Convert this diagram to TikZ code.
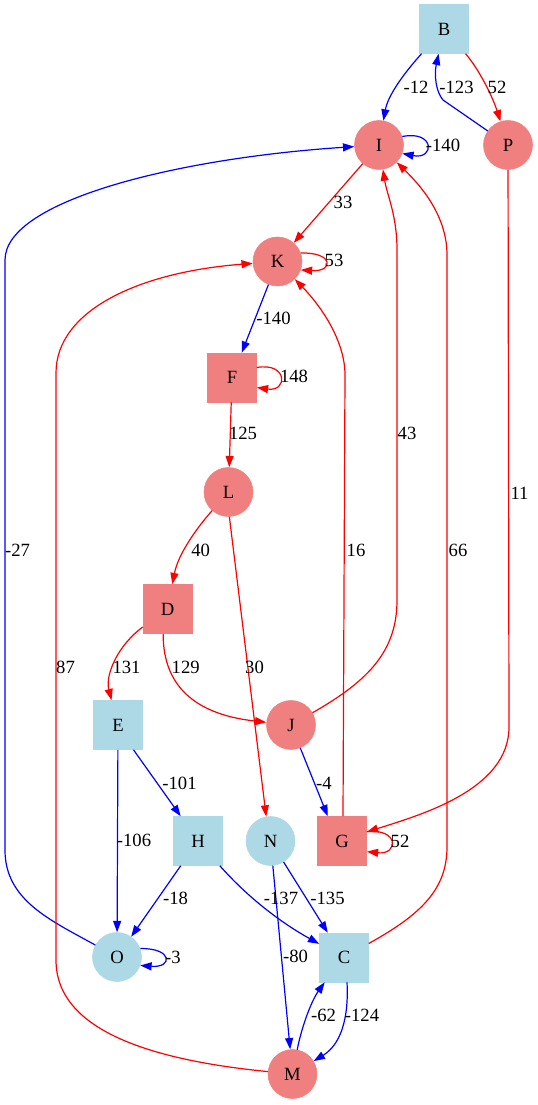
\documentclass[tikz,border=0pt]{standalone}
\usepackage{fontspec}
\setmainfont{Liberation Serif}
\usetikzlibrary{arrows.meta}
\definecolor{lcoral}{RGB}{240,128,128}
\definecolor{lblue}{RGB}{173,216,230}
\begin{document}
\begin{tikzpicture}[x=0.75pt,y=-0.75pt,
  font=\fontsize{14}{16}\selectfont,
  cnode/.style={circle, minimum size=36.75pt, inner sep=0pt},
  snode/.style={rectangle, minimum size=36.75pt, inner sep=0pt},
  rdn/.style={fill=lcoral, draw=lcoral},
  bln/.style={fill=lblue, draw=lblue},
  redge/.style={draw=red, line width=0.9pt, -{Triangle[length=8.5pt,width=6pt]}},
  bedge/.style={draw=blue, line width=0.9pt, -{Triangle[length=8.5pt,width=6pt]}},
  lab/.style={inner sep=0pt}
]
\useasboundingbox (0,0) rectangle (537,1105);
% nodes
\node[snode,bln] (B) at (444,29) {B};
\node[cnode,rdn] (I) at (379,145) {I};
\node[cnode,rdn] (P) at (508,145) {P};
\node[cnode,rdn] (K) at (277.5,261.5) {K};
\node[snode,rdn] (F) at (232,377.5) {F};
\node[cnode,rdn] (L) at (228.5,492) {L};
\node[snode,rdn] (D) at (167.5,609) {D};
\node[snode,bln] (E) at (118,725) {E};
\node[cnode,rdn] (J) at (291,725) {J};
\node[snode,bln] (H) at (198,841) {H};
\node[cnode,bln] (N) at (270.5,841) {N};
\node[snode,rdn] (G) at (342,841) {G};
\node[cnode,bln] (O) at (117,957) {O};
\node[snode,bln] (C) at (344,957.5) {C};
\node[cnode,rdn] (M) at (292.5,1074) {M};
% edges
\draw[bedge] (B) .. controls (405,72) and (388,95) .. (I);
\draw[bedge] (P) -- (443,100) .. controls (436,92) and (434,75) .. (B);
\draw[redge] (B) .. controls (478,68) and (492,95) .. (P);
\draw[bedge] (I.20) .. controls (435,130) and (435,160) .. (I.-20);
\draw[redge] (I) -- (K);
\draw[redge] (K.20) .. controls (334,252) and (334,272) .. (K.-20);
\draw[bedge] (K) -- (F);
\draw[redge] ([yshift=7.5pt]F.east) .. controls (288,362) and (288,392) .. ([yshift=-7.5pt]F.east);
\draw[redge] (F) -- (L);
\draw[redge] (L) .. controls (195,530) and (178,555) .. (D);
\draw[redge] (L.-88) -- (N.100);
\draw[redge] (D) .. controls (118,645) and (105,675) .. (E);
\draw[redge] (D.-100) .. controls (163,690) and (200,715) .. (J);
\draw[redge] (J) .. controls (370,680) and (397,650) .. (397,600) -- (397,250) .. controls (397,215) and (387,195) .. (I);
\draw[bedge] (J.-68) -- ([xshift=7.9pt]G.north west);
\draw[redge] ([xshift=0.75pt]G.north) -- (345,375) .. controls (345,340) and (320,305) .. (K);
\draw[redge] (P) -- (509,727) .. controls (509,790) and (420,815) .. ([yshift=6.75pt]G.east);
\draw[redge] ([yshift=7pt]G.east) .. controls (399,828) and (399,855) .. ([yshift=-8pt]G.east);
\draw[redge] ([yshift=10.5pt]C.east) .. controls (420,915) and (447,890) .. (447,847) -- (447,255) .. controls (447,215) and (420,185) .. (I);
\draw[bedge] (O) .. controls (50,920) and (5,900) .. (5,850) -- (5,260) .. controls (5,200) and (180,158) .. (I);
\draw[redge] (M) .. controls (150,1060) and (56,1030) .. (56,960) -- (56,373) .. controls (56,310) and (140,272) .. (K);
\draw[bedge] (E.-58) -- ([xshift=5.6pt]H.north west);
\draw[bedge] (E) -- (O);
\draw[bedge] (H) -- (O);
\draw[bedge] (H) .. controls (250,900) and (285,925) .. (C);
\draw[bedge] (N) -- ([xshift=6.4pt]C.north west);
\draw[bedge] (N) -- (M);
\draw[bedge] (M) .. controls (302,1025) and (312,1000) .. ([xshift=4.1pt]C.south west);
\draw[bedge] ([xshift=2.25pt]C.south) .. controls (349,1020) and (340,1045) .. (M);
\draw[bedge] (O.20) .. controls (173,948) and (173,968) .. (O.-20);
% labels
\node[lab] (l1) at (416,87) {-12};
\node[lab] (l2) at (456.5,87) {-123};
\node[lab] (l3) at (497,87) {52};
\node[lab] (l4) at (443,145) {-140};
\node[lab] (l5) at (343,202) {33};
\node[lab] (l6) at (334,260) {53};
\node[lab] (l7) at (273.5,318) {-140};
\node[lab] (l8) at (294,376) {148};
\node[lab] (l9) at (243,433) {125};
\node[lab] (l10) at (200.7,550) {40};
\node[lab] (l11) at (254.5,667) {30};
\node[lab] (l12) at (126.5,667) {131};
\node[lab] (l13) at (185.7,667) {129};
\node[lab] (l14) at (407,433) {43};
\node[lab] (l15) at (324,783) {-4};
\node[lab] (l16) at (356,550) {16};
\node[lab] (l17) at (519.5,493) {11};
\node[lab] (l18) at (400,841) {52};
\node[lab] (l19) at (458,550) {66};
\node[lab] (l20) at (17.5,550) {-27};
\node[lab] (l21) at (65.5,667) {87};
\node[lab] (l22) at (179.5,783) {-101};
\node[lab] (l23) at (134,840) {-106};
\node[lab] (l24) at (175.5,898) {-18};
\node[lab] (l25) at (281,898) {-137};
\node[lab] (l26) at (327.5,898) {-135};
\node[lab] (l27) at (295.5,956) {-80};
\node[lab] (l28) at (323.5,1015) {-62};
\node[lab] (l29) at (362,1015) {-124};
\node[lab] (l30) at (173,957) {-3};
\end{tikzpicture}
\end{document}
